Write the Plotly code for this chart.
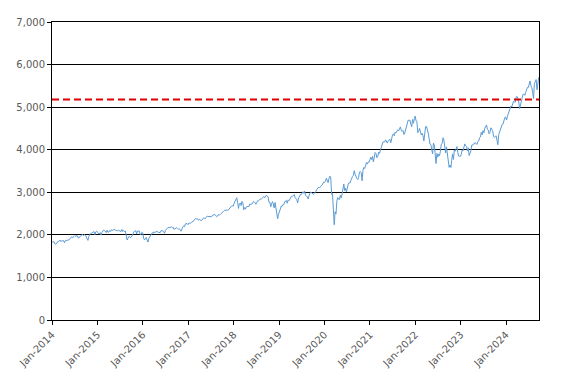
import pandas as pd
import plotly.graph_objects as go

# Weekly closes (Friday)
v2014 = [1831, 1842, 1838, 1790, 1782, 1797, 1838, 1836, 1859, 1878, 1841, 1866, 1857,
         1865, 1815, 1864, 1863, 1881, 1878, 1878, 1900, 1924, 1949, 1936, 1963, 1961,
         1985, 1968, 1978, 1978, 1925, 1931, 1955, 1988, 2003, 2008, 1985, 2010, 1982,
         1968, 1906, 1870, 1965, 2018, 2032, 2039, 2064, 2068, 2075, 2003, 2071, 2089]
v2015 = [2058, 2045, 2019, 2051, 1995, 2055, 2097, 2110, 2105, 2071, 2053, 2108, 2061,
         2067, 2102, 2081, 2117, 2108, 2116, 2123, 2126, 2107, 2092, 2094, 2110, 2102,
         2077, 2077, 2127, 2079, 2104, 2078, 2092, 1971, 1880, 1921, 1961, 1958, 1931,
         1951, 2014, 2033, 2075, 2079, 2099, 2023, 2089, 2090, 2092, 2012, 2006, 2061]
v2016 = [2044, 1922, 1880, 1907, 1940, 1880, 1830, 1918, 1948, 2000, 2022, 2050, 2036,
         2073, 2048, 2081, 2092, 2065, 2057, 2047, 2052, 2099, 2099, 2096, 2071, 2037,
         2103, 2130, 2162, 2175, 2173, 2183, 2184, 2184, 2169, 2180, 2128, 2139, 2165,
         2168, 2153, 2133, 2141, 2126, 2085, 2164, 2182, 2213, 2192, 2259, 2258, 2264, 2239]
v2017 = [2277, 2275, 2271, 2295, 2297, 2316, 2351, 2367, 2383, 2373, 2378, 2344, 2363,
         2355, 2329, 2349, 2384, 2399, 2391, 2382, 2416, 2439, 2432, 2433, 2438, 2423,
         2425, 2459, 2472, 2472, 2477, 2441, 2426, 2443, 2477, 2461, 2500, 2502, 2519,
         2549, 2553, 2575, 2581, 2588, 2582, 2579, 2602, 2642, 2652, 2675, 2683, 2674]
v2018 = [2743, 2786, 2810, 2873, 2762, 2620, 2732, 2747, 2691, 2786, 2752, 2588, 2641,
         2604, 2656, 2670, 2670, 2663, 2728, 2713, 2721, 2735, 2779, 2780, 2755, 2718,
         2760, 2801, 2802, 2819, 2840, 2833, 2850, 2875, 2902, 2872, 2905, 2930, 2914,
         2886, 2767, 2768, 2659, 2723, 2781, 2736, 2633, 2760, 2633, 2600, 2380, 2486]
v2019 = [2532, 2596, 2671, 2665, 2707, 2708, 2776, 2793, 2804, 2743, 2822, 2801, 2834,
         2893, 2907, 2905, 2940, 2946, 2881, 2860, 2826, 2752, 2873, 2887, 2950, 2942,
         2990, 3014, 2977, 3026, 2932, 2919, 2889, 2847, 2926, 2979, 3007, 2992, 2962,
         2952, 2970, 2986, 3023, 3067, 3093, 3120, 3110, 3141, 3146, 3169, 3221, 3240]
v2020 = [3235, 3265, 3330, 3295, 3226, 3328, 3380, 3338, 2954, 2972, 2711, 2237, 2541,
         2489, 2790, 2875, 2837, 2831, 2930, 2864, 2955, 3044, 3194, 3041, 3098, 3009,
         3130, 3185, 3225, 3216, 3271, 3351, 3373, 3397, 3508, 3427, 3341, 3319, 3298,
         3348, 3477, 3484, 3465, 3270, 3510, 3585, 3558, 3638, 3699, 3663, 3709, 3703]
v2021 = [3756, 3825, 3768, 3841, 3714, 3887, 3934, 3907, 3811, 3842, 3943, 3913, 3975,
         4020, 4129, 4185, 4180, 4181, 4233, 4174, 4156, 4204, 4230, 4247, 4166, 4281,
         4352, 4370, 4327, 4412, 4395, 4437, 4468, 4442, 4509, 4535, 4459, 4433, 4455,
         4357, 4391, 4471, 4545, 4605, 4697, 4683, 4698, 4595, 4538, 4712, 4621, 4725, 4790]
v2022 = [4677, 4662, 4398, 4432, 4501, 4419, 4349, 4385, 4329, 4204, 4463, 4543, 4546,
         4488, 4393, 4272, 4132, 4123, 4024, 3901, 4158, 4109, 3901, 3675, 3912, 3825,
         3899, 3863, 3962, 4130, 4145, 4280, 4228, 4058, 3924, 4067, 3873, 3693, 3586,
         3640, 3583, 3752, 3901, 3771, 3993, 3965, 4026, 4072, 3934, 3852, 3845, 3840]
v2023 = [3895, 3999, 3973, 4071, 4136, 4090, 4079, 3970, 4046, 3862, 3917, 3971, 4109,
         4105, 4138, 4133, 4169, 4136, 4124, 4192, 4205, 4282, 4299, 4410, 4348, 4450,
         4399, 4505, 4536, 4582, 4478, 4464, 4370, 4406, 4516, 4457, 4450, 4320, 4288,
         4309, 4328, 4224, 4117, 4358, 4415, 4514, 4559, 4595, 4604, 4719, 4755, 4770]
v2024 = [4697, 4784, 4840, 4891, 4959, 5027, 5006, 5089, 5137, 5124, 5117, 5234, 5254,
         5204, 5123, 4967, 5100, 5128, 5223, 5303, 5305, 5278, 5347, 5431, 5465, 5460,
         5567, 5615, 5505, 5459, 5346, 5200, 5554, 5634, 5648, 5408, 5626, 5703]

years = {2014: v2014, 2015: v2015, 2016: v2016, 2017: v2017, 2018: v2018, 2019: v2019,
         2020: v2020, 2021: v2021, 2022: v2022, 2023: v2023, 2024: v2024}
reference_level = 5180

tick_years = list(range(2014, 2025))
tick_labels = [f"Jan-{y}" for y in tick_years]

dates, values = [], []
for y, vals in years.items():
    d = pd.date_range(f"{y}-01-01", f"{y}-12-31", freq="W-FRI")[:len(vals)]
    dates.extend(d)
    values.extend(vals[:len(d)])

fig = go.Figure()
fig.add_trace(go.Scatter(x=dates, y=values, mode="lines",
                         line=dict(color="#5B9BD5", width=1), showlegend=False))
fig.add_hline(y=reference_level, line=dict(color="#E00000", width=2, dash="7px,4px"))

font = dict(family="DejaVu Sans", size=10, color="#595959")
fig.update_layout(
    width=567, height=383,
    margin=dict(l=43, r=36, t=8, b=71),
    plot_bgcolor="white", paper_bgcolor="white",
    font=font, showlegend=False,
)
fig.update_xaxes(
    type="date", range=["2014-01-01", "2024-09-22"],
    tickvals=[f"{y}-01-01" for y in tick_years], ticktext=tick_labels,
    tickangle=-45, ticks="outside", ticklen=4, tickcolor="black",
    showline=True, linecolor="black", linewidth=1, mirror=True,
    showgrid=False, zeroline=False,
    tickfont=font,
)
fig.update_yaxes(
    range=[0, 7000], dtick=1000, tickformat=",d",
    ticks="outside", ticklen=4, tickcolor="black",
    showline=True, linecolor="black", linewidth=1, mirror=True,
    showgrid=True, gridcolor="black", gridwidth=1, zeroline=False,
    tickfont=font,
)
fig.write_html("out.html")
